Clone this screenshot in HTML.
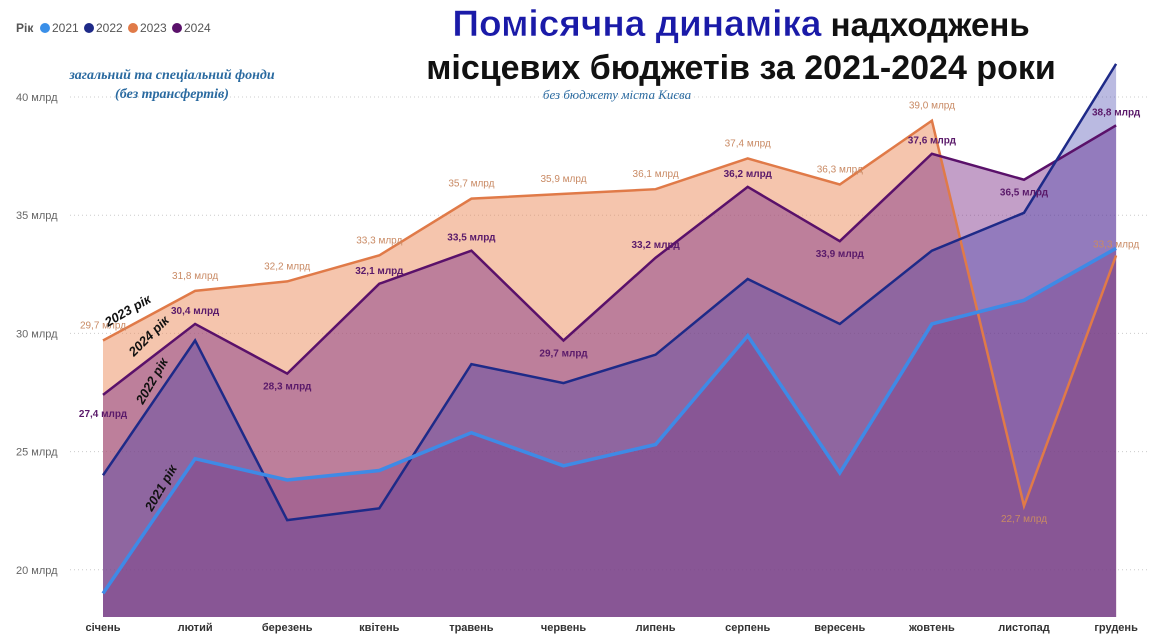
<!DOCTYPE html>
<html><head><meta charset="utf-8">
<style>
body{margin:0;background:#fff;width:1157px;height:638px;overflow:hidden;font-family:"Liberation Sans",sans-serif}
svg{position:absolute;left:0;top:0}
</style></head>
<body>
<svg id="c" width="1157" height="638"></svg>
<script>
const months=["січень","лютий","березень","квітень","травень","червень","липень","серпень","вересень","жовтень","листопад","грудень"];
const years=["2021","2022","2023","2024"];
const s2021=[19.0,24.7,23.8,24.2,25.8,24.4,25.3,29.9,24.1,30.4,31.4,33.6];
const s2022=[24.0,29.7,22.1,22.6,28.7,27.9,29.1,32.3,30.4,33.5,35.1,41.4];
const s2023=[29.7,31.8,32.2,33.3,35.7,35.9,36.1,37.4,36.3,39.0,22.7,33.3];
const s2024=[27.4,30.4,28.3,32.1,33.5,29.7,33.2,36.2,33.9,37.6,36.5,38.8];
const yTicks=[20,25,30,35,40];
const NS="http://www.w3.org/2000/svg";
const svg=document.getElementById("c");
const x=i=>103+i*92.1;
const y=v=>97+(40-v)*23.64;
const bottom=617;
function el(t,a,p){const e=document.createElementNS(NS,t);for(const k in a)e.setAttribute(k,a[k]);(p||svg).appendChild(e);return e;}
yTicks.forEach(t=>{
  const g=el("line",{x1:70,x2:1150,y1:y(t),y2:y(t),stroke:"#ccc","stroke-dasharray":"1 3"});
  
  
  const l=el("text",{x:16,y:y(t)+4,"font-size":11,fill:"#666"});l.textContent=t+" млрд";
  
  
});
months.forEach((m,i)=>{
  const t=el("text",{x:x(i),y:631,"font-size":11,"font-weight":"bold",fill:"#333","text-anchor":"middle"});t.textContent=m;
  
  
});
const series=[
 {d:s2023,fill:"#eb8c5c",op:0.5,stroke:"#e07a48",w:2.5,name:"2023"},
 {d:s2024,fill:"#7a2a85",op:0.45,stroke:"#5a116a",w:2.5,name:"2024"},
 {d:s2022,fill:"#3a3aa8",op:0.35,stroke:"#1e2a88",w:2.5,name:"2022"},
 {d:s2021,fill:"#7a3a80",op:0.35,stroke:"#3f8ae6",w:3.5,name:"2021"}
];
series.forEach(s=>{
  let p="M"+x(0)+","+bottom;
  s.d.forEach((v,i)=>p+=" L"+x(i)+","+y(v));
  p+=" L"+x(11)+","+bottom+" Z";
  const a=el("path",{d:p,fill:s.fill,"fill-opacity":s.op});
  
  
});
series.forEach(s=>{
  const pts=s.d.map((v,i)=>x(i)+","+y(v)).join(" ");
  const l=el("polyline",{points:pts,fill:"none",stroke:s.stroke,"stroke-width":s.w,"stroke-linejoin":"miter"});
  
  
});
const fmt=v=>v.toFixed(1).replace(".",",")+" млрд";
const off23=[-12,-12,-12,-12,-12,-12,-12,-12,-12,-12,16,-8];
s2023.forEach((v,i)=>{
  const t=el("text",{x:x(i),y:y(v)+off23[i],"font-size":10,fill:"#c98a64","text-anchor":"middle"});t.textContent=fmt(v);
  
  
});
const off24=[22,-10,16,-10,-10,16,-10,-10,16,-10,16,-10];
s2024.forEach((v,i)=>{
  const t=el("text",{x:x(i),y:y(v)+off24[i],"font-size":10,"font-weight":"bold",fill:"#5a1a6a","text-anchor":"middle"});t.textContent=fmt(v);
  
  
});
</script>
<svg width="1157" height="638" style="pointer-events:none">
 <g font-size="12">
  <text x="16" y="32" font-weight="bold" fill="#555">Рік</text>
  <circle cx="45" cy="28" r="5" fill="#3a8fe8"/><text x="52" y="32" fill="#555">2021</text>
  <circle cx="89" cy="28" r="5" fill="#1e2a88"/><text x="96" y="32" fill="#555">2022</text>
  <circle cx="133" cy="28" r="5" fill="#e07a48"/><text x="140" y="32" fill="#555">2023</text>
  <circle cx="177" cy="28" r="5" fill="#5a116a"/><text x="184" y="32" fill="#555">2024</text>
 </g>
 <text x="172" y="79" text-anchor="middle" font-family="Liberation Serif,serif" font-style="italic" font-weight="bold" font-size="14" fill="#2a6aa0">загальний та спеціальний фонди</text>
 <text x="172" y="98" text-anchor="middle" font-family="Liberation Serif,serif" font-style="italic" font-weight="bold" font-size="14" fill="#2a6aa0">(без трансфертів)</text>
 <text x="617" y="99" text-anchor="middle" font-family="Liberation Serif,serif" font-style="italic" font-size="13" fill="#2a6aa0">без бюджету міста Києва</text>
 <text x="741" y="36" text-anchor="middle" font-weight="bold" font-size="37"><tspan fill="#1a1aa8" stroke="#fff" stroke-width="0.5">Помісячна динаміка</tspan><tspan fill="#111" font-size="33"> надходжень</tspan></text>
 <text x="741" y="79" text-anchor="middle" font-weight="bold" font-size="34" fill="#111">місцевих бюджетів за 2021-2024 роки</text>
 <g font-weight="bold" font-style="italic" font-size="13" fill="#111">
  <text transform="translate(108,327) rotate(-30)">2023 рік</text>
  <text transform="translate(134,357) rotate(-45)">2024 рік</text>
  <text transform="translate(143,405) rotate(-60)">2022 рік</text>
  <text transform="translate(152,512) rotate(-60)">2021 рік</text>
 </g>
</svg>
</body></html>
